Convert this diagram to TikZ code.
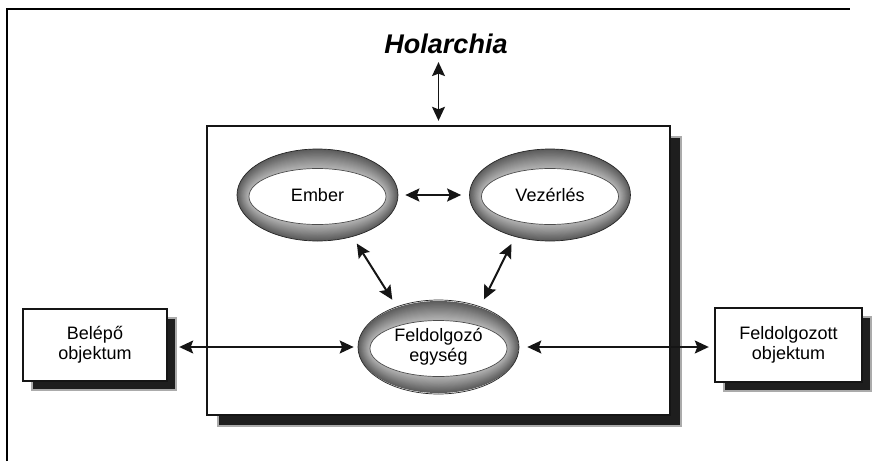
\documentclass[tikz,border=0pt]{standalone}
\usepackage{fontspec}
\setmainfont{Liberation Sans}
\usetikzlibrary{shapes.geometric,arrows.meta,shadows}

\definecolor{shadowdark}{HTML}{1E1E1E}
\definecolor{shadowedge}{HTML}{ABABAB}
\definecolor{inkline}{HTML}{151515}

\tikzset{
  lbl/.style={font=\fontsize{18}{20}\selectfont, align=center, text=black},
  % framed box with a hard dark shadow to the lower right
  shadowbox/.style={rectangle, draw=inkline, line width=2.4pt, fill=white, lbl,
    general shadow={fill=shadowdark, draw=shadowedge, line width=1.2pt,
                    shadow xshift=#1, shadow yshift=-#1}},
  shadowbox/.default=10pt,
  % shaded torus-like ring around a white hole
  ring/.style={ellipse, minimum width=161pt, minimum height=92pt, inner sep=0pt,
    draw=black!85, line width=0.7pt, lbl,
    path picture={
      \foreach \k in {0,...,18}{
        \pgfmathsetmacro\f{\k/18}
        \pgfmathsetmacro\dk{64-36*\f}
        \fill[black!\dk] ([yshift=-1.5pt*\f]path picture bounding box.center)
          ellipse ({80.5pt-\f*12pt} and {46pt-\f*18pt});
      }
      \fill[white, draw=black!70, line width=0.7pt]
        ([yshift=-1.5pt]path picture bounding box.center) ellipse (68.5pt and 28pt);
    }},
  dbl/.style={{Stealth[length=14pt,width=13pt,inset=2.5pt]}-{Stealth[length=14pt,width=13pt,inset=2.5pt]},
    line width=2pt, draw=inkline},
  dblthin/.style={dbl, line width=1.4pt},
}

\begin{document}
\begin{tikzpicture}[x=1pt,y=-1pt]
  \useasboundingbox (0,0) rectangle (878,461);

  % page frame (top and left edges only)
  \draw[line width=2pt, black] (7,461) -- (7,9) -- (850,9);

  % title
  \node[font=\fontsize{27}{30}\selectfont\bfseries\itshape, inner sep=0pt] (hol) at (446,44) {Holarchia};

  % holon frame
  \node[shadowbox=11pt, minimum width=463pt, minimum height=289pt] (main) at (438.5,270.5) {};

  % inner elements
  \node[ring] (ember) at (317.5,195) {Ember};
  \node[ring] (vez) at (550,195) {Vezérlés};
  \node[ring, minimum height=94pt] (feld) at (438.5,347) {Feldolgozó\\egység};

  % input and output objects
  \node[shadowbox=9pt, minimum width=144pt, minimum height=72pt] (bel) at (95,345) {Belépő\\objektum};
  \node[shadowbox=9pt, minimum width=147pt, minimum height=74pt] (out) at (788.5,345) {Feldolgozott\\objektum};

  % connectors
  \draw[dblthin] ([yshift=-8pt]hol.south -| main.north) -- ([yshift=4pt]main.north);
  \draw[dbl, shorten <=7pt, shorten >=8pt] (ember.east) -- (vez.west);
  \draw[dbl, shorten <=8pt, shorten >=8pt] (ember.-50) -- (feld.136);
  \draw[dbl, shorten <=8pt, shorten >=8pt] (vez.-130) -- (feld.44);
  \draw[dblthin] ([xshift=11pt]bel.east |- feld.west) -- ([xshift=-4pt]feld.west);
  \draw[dblthin] ([xshift=8pt]feld.east) -- ([xshift=-5pt]out.west |- feld.east);
\end{tikzpicture}
\end{document}
